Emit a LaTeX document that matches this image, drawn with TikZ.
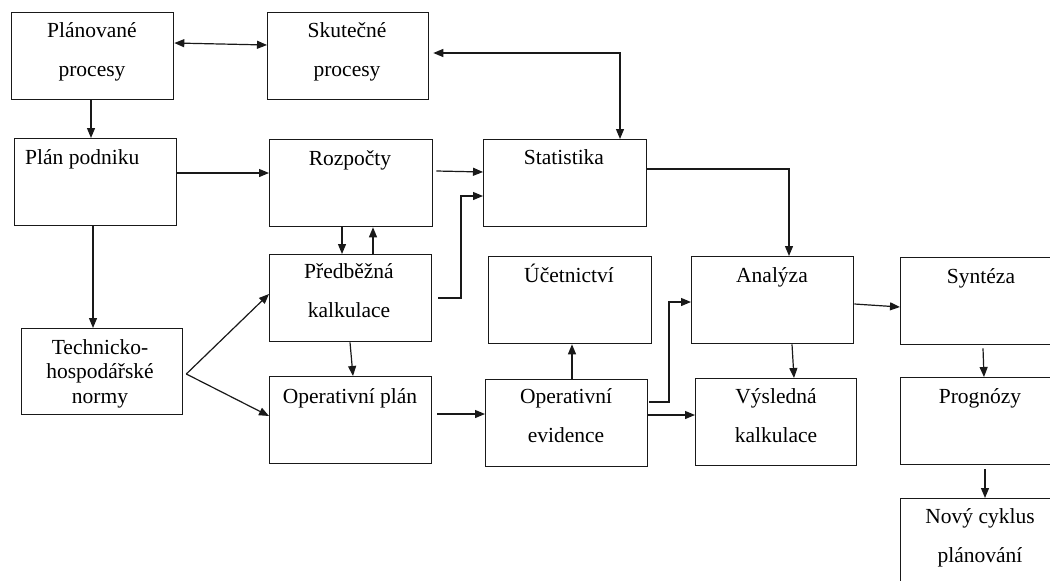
\documentclass[tikz,border=0pt]{standalone}
\usepackage{fontspec}
\setmainfont{Liberation Serif}
\usetikzlibrary{arrows.meta,calc}

\tikzset{
  box/.style={draw=black!90, line width=1.3pt, rectangle, inner sep=0pt,
              minimum width=162pt, minimum height=87pt, anchor=north west},
  % multi-line labels are anchored at the baseline of their last line
  lbl/.style={inner sep=0pt, font=\fontsize{21.5}{39}\selectfont,
              align=center, anchor=base, text=black},
  lblsingle/.style={lbl, font=\fontsize{21.5}{24.5}\selectfont},
  arr/.style={draw=black!90, line width=1.2pt, -{Triangle[length=10pt,width=8pt]}},
  dblarr/.style={draw=black!90, line width=1.2pt,
                 {Triangle[length=10pt,width=8pt]}-{Triangle[length=10pt,width=8pt]}},
}

\begin{document}
\begin{tikzpicture}[x=1pt, y=-1pt]
  \fill[white] (0,0) rectangle (1050,581);
  \useasboundingbox (0,0) rectangle (1050,581);
  \clip (0,0) rectangle (1050,581);

  % boxes
  \node[box] (pp)  at (11,12)  {};
  \node[box, minimum width=161pt] (sp) at (267,12) {};
  \node[box] (pod) at (14,138) {};
  \node[box, minimum width=163pt] (roz) at (269,139) {};
  \node[box, minimum width=163pt] (sta) at (483,139) {};
  \node[box, minimum width=161pt, minimum height=86pt] (thn) at (21,328) {};
  \node[box] (pk)  at (269,254) {};
  \node[box] (op)  at (269,376) {};
  \node[box, minimum width=163pt] (uc) at (488,256) {};
  \node[box] (an)  at (691,256) {};
  \node[box] (syn) at (900,257) {};
  \node[box] (oe)  at (485,379) {};
  \node[box, minimum width=161pt] (vk) at (695,378) {};
  \node[box] (pr)  at (900,377) {};
  \node[box, minimum height=90pt] (nc) at (900,498) {};

  % labels
  \node[lbl] (ppt)  at (92,76)   {Plánované\\procesy};
  \node[lbl] (spt)  at (347,76)  {Skutečné\\procesy};
  \node[lbl, anchor=base west] (podt) at (25,164) {Plán podniku};
  \node[lbl] (rozt) at (350,165) {Rozpočty};
  \node[lbl] (stat) at (564,164) {Statistika};
  \node[lbl] (pkt)  at (349,317) {Předběžná\\kalkulace};
  \node[lblsingle] (thnt) at (100,403) {Technicko-\\hospodářské\\normy};
  \node[lbl] (opt)  at (350,403) {Operativní plán};
  \node[lbl] (uct)  at (569,282) {Účetnictví};
  \node[lbl] (ant)  at (772,282) {Analýza};
  \node[lbl] (synt) at (981,283) {Syntéza};
  \node[lbl] (oet)  at (566,442) {Operativní\\evidence};
  \node[lbl] (vkt)  at (776,442) {Výsledná\\kalkulace};
  \node[lbl] (prt)  at (980,403) {Prognózy};
  \node[lbl] (nct)  at (980,562) {Nový cyklus\\plánování};

  % connectors
  \draw[dblarr] (pp.east |- 0,43) -- (sp.west |- 0,45);
  \draw[dblarr] ($(sp.east |- 0,53)+(4,0)$) -| (sta.north -| 620,0);
  \draw[arr] (pp.south -| 91,0) -- (pod.north -| 91,0);
  \draw[arr] (pod.east |- 0,173) -- (roz.west |- 0,173);
  \draw[arr] (pod.south -| 93,0) -- (thn.north -| 93,0);
  \draw[arr] (roz.south -| 342,0) -- (pk.north -| 342,0);
  \draw[arr] (pk.north -| 373,0) -- (roz.south -| 373,0);
  \draw[arr] ($(roz.east |- 0,171)+(3,0)$) -- (sta.west |- 0,172);
  \draw[arr] ($(pk.east |- 0,298)+(6,0)$) -| (461,196) -- (sta.west |- 0,196);
  \draw[arr] (sta.east |- 0,169) -| (an.north -| 789,0);

  \coordinate (fork) at ($(thn.east |- 0,374)+(3,0)$);
  \draw[arr] (fork) -- (pk.west |- 0,294);
  \draw[arr] (fork) -- (op.west |- 0,416);

  \draw[arr] (pk.south -| 350,0) -- (op.north -| 353,0);
  \draw[arr] ($(op.east |- 0,414)+(5,0)$) -- (oe.west |- 0,414);
  \draw[arr] (oe.north -| 572,0) -- (uc.south -| 572,0);
  \draw[arr] ($(oe.east |- 0,402)+(1,0)$) -| (669,302) -- (an.west |- 0,302);
  \draw[arr] (oe.east |- 0,415) -- (vk.west |- 0,415);
  \draw[arr] (an.south -| 792,0) -- (vk.north -| 794,0);
  \draw[arr] (an.east |- 0,304) -- (syn.west |- 0,307);
  \draw[arr] ($(syn.south -| 983,0)+(0,3)$) -- (pr.north -| 984,0);
  \draw[arr] ($(pr.south -| 985,0)+(0,4)$) -- (nc.north -| 985,0);
\end{tikzpicture}
\end{document}
